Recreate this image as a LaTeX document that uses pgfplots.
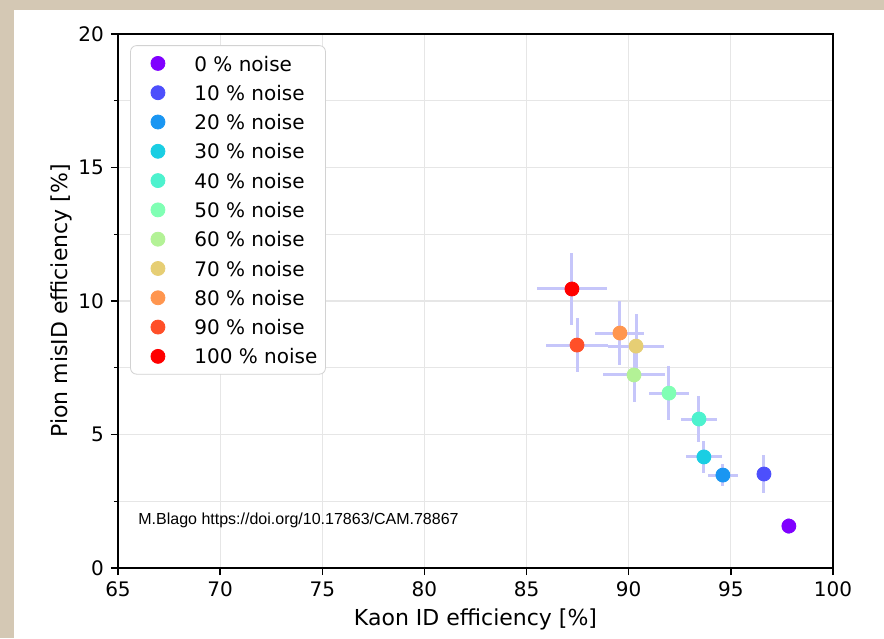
\documentclass[border=0pt]{standalone}
\usepackage{pgfplots}
\pgfplotsset{compat=1.18}
\usepackage{fontspec}
\setmainfont{DejaVu Sans}
\newfontfamily\arialfont{Liberation Sans}

% matplotlib "rainbow" colours, 0..100 % noise
\definecolor{c0}{RGB}{128,0,255}
\definecolor{c1}{RGB}{77,79,252}
\definecolor{c2}{RGB}{26,150,242}
\definecolor{c3}{RGB}{26,206,227}
\definecolor{c4}{RGB}{77,242,206}
\definecolor{c5}{RGB}{128,255,180}
\definecolor{c6}{RGB}{179,242,150}
\definecolor{c7}{RGB}{230,206,116}
\definecolor{c8}{RGB}{255,150,79}
\definecolor{c9}{RGB}{255,79,40}
\definecolor{c10}{RGB}{255,0,0}
\definecolor{errc}{RGB}{198,198,250}
\definecolor{gridc}{RGB}{230,230,230}
\definecolor{parch}{RGB}{212,200,180}

\pgfplotsset{
  pt/.style={only marks, mark=*, mark size=3.5pt, color=#1,
    error bars/.cd, x dir=both, x explicit, y dir=both, y explicit,
    error mark=none, error bar style={line width=1.5pt, errc}},
}

\begin{document}
\begin{tikzpicture}
\fill[parch] (-59pt,-35pt) rectangle (383pt,284pt);
\fill[white] (-52pt,-35pt) rectangle (383pt,279pt);
\useasboundingbox (-59pt,-35pt) rectangle (383pt,284pt);
\begin{axis}[
    at={(0pt,0pt)}, anchor=south west,
    width=357.5pt, height=267pt, scale only axis,
    xmin=65, xmax=100, ymin=0, ymax=20,
    xtick={65,70,...,100}, ytick={0,5,...,20},
    minor ytick={2.5,7.5,12.5,17.5},
    grid=both,
    major grid style={gridc, line width=0.6pt},
    minor grid style={gridc, line width=0.6pt},
    tick align=outside, tick pos=left,
    major tick length=3.5pt, minor tick length=2pt,
    every tick/.style={black, line width=0.7pt},
    axis line style={black, line width=0.8pt},
    tick label style={font=\fontsize{10}{12}\selectfont,
        /pgf/number format/assume math mode=true},
    xlabel={Kaon ID efficiency [\%]},
    ylabel={Pion misID efficiency [\%]},
    every axis x label/.style={at={(axis description cs:0.5,-0.0955)},
        anchor=center, font=\fontsize{11}{13}\selectfont},
    every axis y label/.style={at={(axis description cs:-0.0797,0.5)},
        anchor=center, rotate=90, font=\fontsize{11}{13}\selectfont},
    legend image code/.code={\path (-9.5pt,0pt); \fill[#1] (0pt,0pt) circle (3.5pt);},
    legend style={at={(0.017,0.979)}, anchor=north west,
        draw=gray!35, rounded corners=3pt, fill=white,
        inner xsep=4pt, inner ysep=5.1pt,
        row sep=7.05pt, column sep=14.5pt,
        nodes={inner sep=0pt, text depth=0pt},
        font=\fontsize{10}{12}\selectfont},
    legend cell align=left,
]
\addplot[pt=c0] coordinates {(97.84,1.57) +- (0.3,0.3)};
\addlegendentry{0 \% noise}
\addplot[pt=c1] coordinates {(96.62,3.52) +- (0.35,0.7)};
\addlegendentry{10 \% noise}
\addplot[pt=c2] coordinates {(94.61,3.48) +- (0.75,0.4)};
\addlegendentry{20 \% noise}
\addplot[pt=c3] coordinates {(93.68,4.16) +- (0.9,0.6)};
\addlegendentry{30 \% noise}
\addplot[pt=c4] coordinates {(93.44,5.58) +- (0.9,0.85)};
\addlegendentry{40 \% noise}
\addplot[pt=c5] coordinates {(91.97,6.55) +- (1.0,1.0)};
\addlegendentry{50 \% noise}
\addplot[pt=c6] coordinates {(90.26,7.23) +- (1.5,1.0)};
\addlegendentry{60 \% noise}
\addplot[pt=c7] coordinates {(90.36,8.31) +- (1.35,1.2)};
\addlegendentry{70 \% noise}
\addplot[pt=c8] coordinates {(89.57,8.80) +- (1.2,1.2)};
\addlegendentry{80 \% noise}
\addplot[pt=c9] coordinates {(87.47,8.35) +- (1.5,1.0)};
\addlegendentry{90 \% noise}
\addplot[pt=c10] coordinates {(87.22,10.45) +- (1.7,1.35)};
\addlegendentry{100 \% noise}
\node[anchor=west, inner sep=0pt, font=\arialfont\fontsize{8}{10}\selectfont]
    at (axis cs:65.98,1.8) {M.Blago https://doi.org/10.17863/CAM.78867};
\end{axis}
\end{tikzpicture}
\end{document}
